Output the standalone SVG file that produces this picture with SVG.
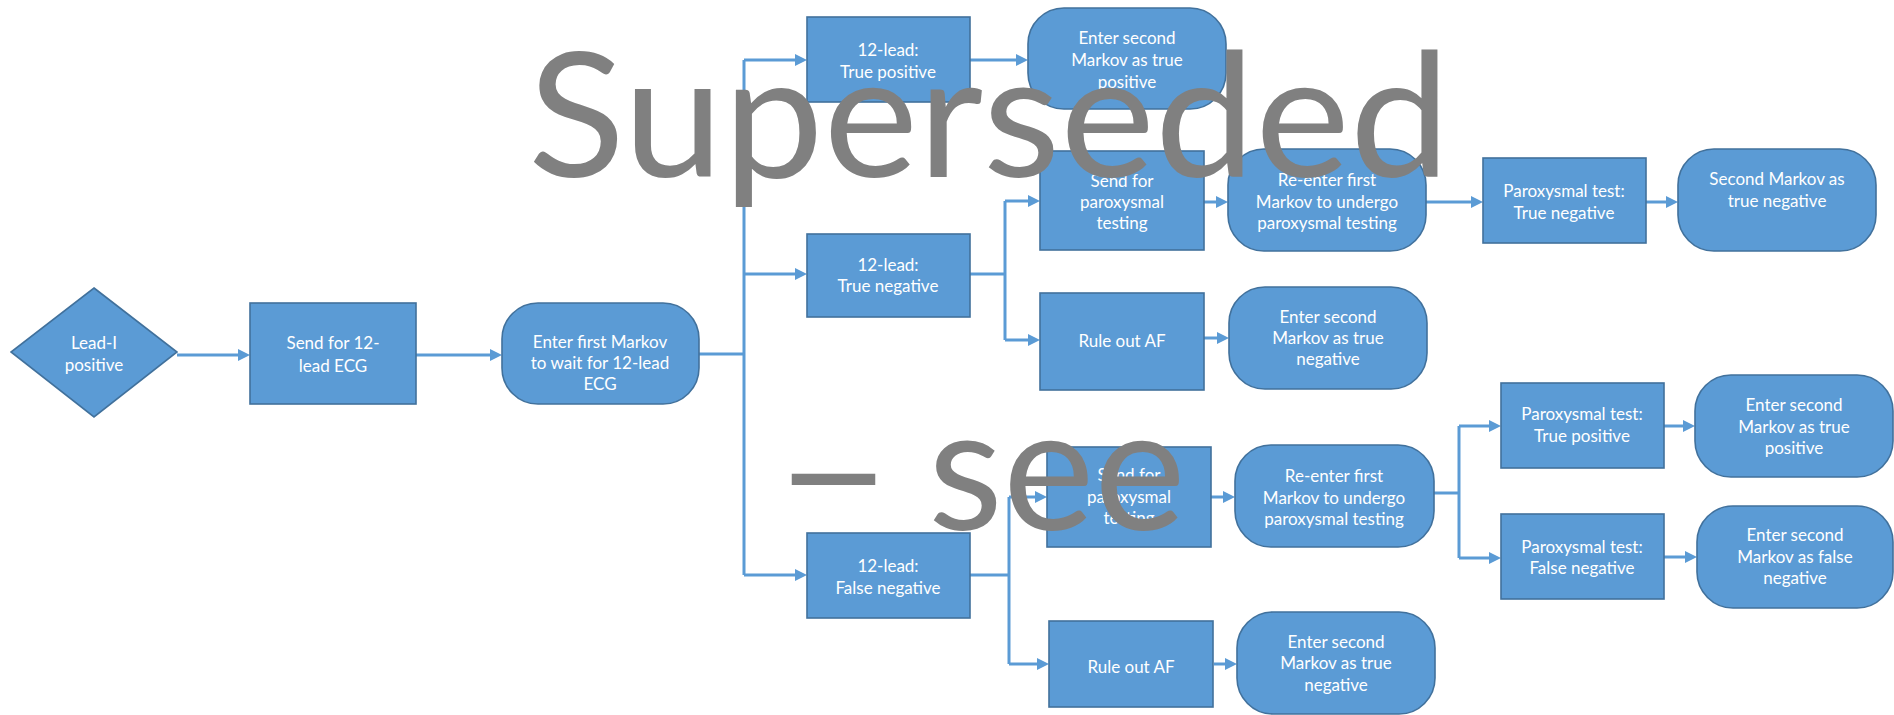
<svg xmlns="http://www.w3.org/2000/svg" width="1894" height="715" viewBox="0 0 1894 715">
<style>
.n{fill:#5B9BD5;stroke:#41719C;stroke-width:1.6}
.t{font-family:Lato,"Open Sans","Liberation Sans",sans-serif;font-size:17px;fill:#FFFFFF;text-anchor:middle}
.c{fill:none;stroke:#5B9BD5;stroke-width:3}
.w{font-family:Lato,"Open Sans","Liberation Sans",sans-serif;fill:#808080}
</style>
<defs>
<marker id="arr" viewBox="0 0 12 12" refX="4" refY="6" markerWidth="12" markerHeight="12" markerUnits="userSpaceOnUse" orient="auto">
<path d="M0,0 L12,6 L0,12 z" fill="#5B9BD5"/>
</marker>
</defs>
<rect width="1894" height="715" fill="#FFFFFF"/>
<g id="connectors">
<path class="c" d="M177,355 H242" marker-end="url(#arr)"/>
<path class="c" d="M416,355 H494" marker-end="url(#arr)"/>
<path class="c" d="M699,354 H744"/>
<path class="c" d="M744,60 V575"/>
<path class="c" d="M744,60 H799" marker-end="url(#arr)"/>
<path class="c" d="M744,274 H799" marker-end="url(#arr)"/>
<path class="c" d="M744,575 H799" marker-end="url(#arr)"/>
<path class="c" d="M970,60 H1020" marker-end="url(#arr)"/>
<path class="c" d="M970,274 H1005"/>
<path class="c" d="M1005,201 V340"/>
<path class="c" d="M1005,201 H1032" marker-end="url(#arr)"/>
<path class="c" d="M1005,340 H1032" marker-end="url(#arr)"/>
<path class="c" d="M1204,202 H1220" marker-end="url(#arr)"/>
<path class="c" d="M1426,202 H1475" marker-end="url(#arr)"/>
<path class="c" d="M1646,202 H1670" marker-end="url(#arr)"/>
<path class="c" d="M1204,338 H1221" marker-end="url(#arr)"/>
<path class="c" d="M970,575 H1009"/>
<path class="c" d="M1009,497 V664"/>
<path class="c" d="M1009,497 H1039" marker-end="url(#arr)"/>
<path class="c" d="M1009,664 H1041" marker-end="url(#arr)"/>
<path class="c" d="M1211,497 H1227" marker-end="url(#arr)"/>
<path class="c" d="M1214,664 H1229" marker-end="url(#arr)"/>
<path class="c" d="M1434,493 H1459"/>
<path class="c" d="M1459,426 V558"/>
<path class="c" d="M1459,426 H1493" marker-end="url(#arr)"/>
<path class="c" d="M1459,558 H1493" marker-end="url(#arr)"/>
<path class="c" d="M1664,426 H1687" marker-end="url(#arr)"/>
<path class="c" d="M1664,557 H1689" marker-end="url(#arr)"/>
</g>
<g id="lead1">
<polygon class="n" points="94,288 177,352 94,417 11,352"/>
<text class="t" x="94" y="349">Lead-I</text>
<text class="t" x="94" y="371">positive</text>
</g>
<g id="send12">
<rect class="n" x="250" y="303" width="166" height="101"/>
<text class="t" x="333" y="349">Send for 12-</text>
<text class="t" x="333" y="372">lead ECG</text>
</g>
<g id="markov1">
<rect class="n" x="502" y="303" width="197" height="101" rx="36"/>
<text class="t" x="600" y="348">Enter first Markov</text>
<text class="t" x="600" y="369">to wait for 12-lead</text>
<text class="t" x="600" y="390">ECG</text>
</g>
<g id="tp12">
<rect class="n" x="807" y="17" width="163" height="85"/>
<text class="t" x="888" y="56">12-lead:</text>
<text class="t" x="888" y="78">True positive</text>
</g>
<g id="m2tp">
<rect class="n" x="1028" y="8" width="198" height="101" rx="36"/>
<text class="t" x="1127" y="44">Enter second</text>
<text class="t" x="1127" y="66">Markov as true</text>
<text class="t" x="1127" y="88">positive</text>
</g>
<g id="tn12">
<rect class="n" x="807" y="234" width="163" height="83"/>
<text class="t" x="888" y="271">12-lead:</text>
<text class="t" x="888" y="292">True negative</text>
</g>
<g id="sendpar1">
<rect class="n" x="1040" y="151" width="164" height="99"/>
<text class="t" x="1122" y="187">Send for</text>
<text class="t" x="1122" y="208">paroxysmal</text>
<text class="t" x="1122" y="229">testing</text>
</g>
<g id="reenter1">
<rect class="n" x="1228" y="149" width="198" height="102" rx="36"/>
<text class="t" x="1327" y="186">Re-enter first</text>
<text class="t" x="1327" y="208">Markov to undergo</text>
<text class="t" x="1327" y="229">paroxysmal testing</text>
</g>
<g id="partn">
<rect class="n" x="1483" y="158" width="163" height="85"/>
<text class="t" x="1564" y="197">Paroxysmal test:</text>
<text class="t" x="1564" y="219">True negative</text>
</g>
<g id="m2tn1">
<rect class="n" x="1678" y="149" width="198" height="102" rx="36"/>
<text class="t" x="1777" y="185">Second Markov as</text>
<text class="t" x="1777" y="207">true negative</text>
</g>
<g id="ruleout1">
<rect class="n" x="1040" y="293" width="164" height="97"/>
<text class="t" x="1122" y="347">Rule out AF</text>
</g>
<g id="m2tn2">
<rect class="n" x="1229" y="287" width="198" height="102" rx="36"/>
<text class="t" x="1328" y="323">Enter second</text>
<text class="t" x="1328" y="344">Markov as true</text>
<text class="t" x="1328" y="365">negative</text>
</g>
<g id="fn12">
<rect class="n" x="807" y="533" width="163" height="85"/>
<text class="t" x="888" y="572">12-lead:</text>
<text class="t" x="888" y="594">False negative</text>
</g>
<g id="sendpar2">
<rect class="n" x="1047" y="447" width="164" height="100"/>
<text class="t" x="1129" y="481">Send for</text>
<text class="t" x="1129" y="503">paroxysmal</text>
<text class="t" x="1129" y="524">testing</text>
</g>
<g id="reenter2">
<rect class="n" x="1235" y="445" width="199" height="102" rx="36"/>
<text class="t" x="1334" y="482">Re-enter first</text>
<text class="t" x="1334" y="504">Markov to undergo</text>
<text class="t" x="1334" y="525">paroxysmal testing</text>
</g>
<g id="partp">
<rect class="n" x="1501" y="383" width="163" height="85"/>
<text class="t" x="1582" y="420">Paroxysmal test:</text>
<text class="t" x="1582" y="442">True positive</text>
</g>
<g id="m2tp2">
<rect class="n" x="1695" y="375" width="198" height="102" rx="36"/>
<text class="t" x="1794" y="411">Enter second</text>
<text class="t" x="1794" y="433">Markov as true</text>
<text class="t" x="1794" y="454">positive</text>
</g>
<g id="parfn">
<rect class="n" x="1501" y="514" width="163" height="85"/>
<text class="t" x="1582" y="553">Paroxysmal test:</text>
<text class="t" x="1582" y="574">False negative</text>
</g>
<g id="m2fn">
<rect class="n" x="1697" y="506" width="196" height="102" rx="36"/>
<text class="t" x="1795" y="541">Enter second</text>
<text class="t" x="1795" y="563">Markov as false</text>
<text class="t" x="1795" y="584">negative</text>
</g>
<g id="ruleout2">
<rect class="n" x="1049" y="621" width="164" height="86"/>
<text class="t" x="1131" y="673">Rule out AF</text>
</g>
<g id="m2tn3">
<rect class="n" x="1237" y="612" width="198" height="102" rx="36"/>
<text class="t" x="1336" y="648">Enter second</text>
<text class="t" x="1336" y="669">Markov as true</text>
<text class="t" x="1336" y="691">negative</text>
</g>
<g id="watermark">
<text class="w" x="528" y="177" font-size="173" textLength="922" lengthAdjust="spacingAndGlyphs">Superseded</text>
<text class="w" y="530" font-size="173"><tspan x="773" textLength="121" lengthAdjust="spacingAndGlyphs">–</tspan> <tspan x="928">see</tspan></text>
</g>
</svg>
